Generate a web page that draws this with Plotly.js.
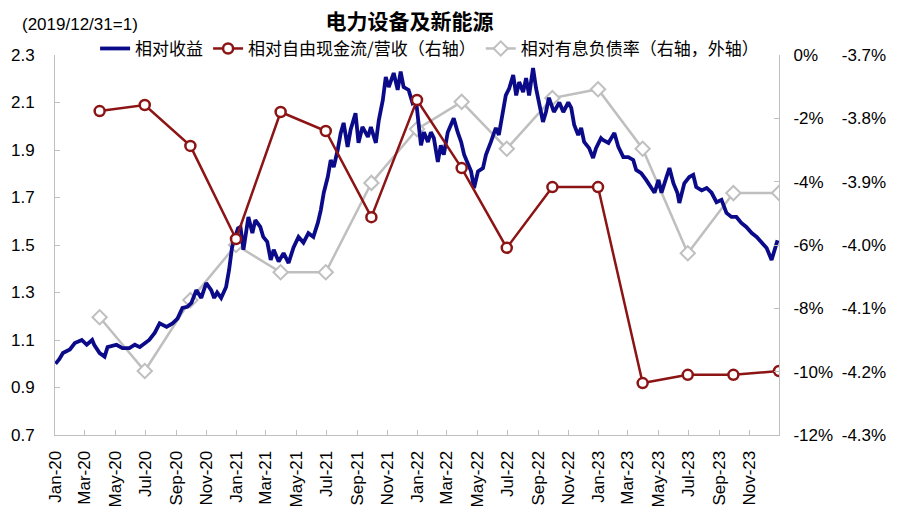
<!DOCTYPE html>
<html><head><meta charset="utf-8">
<script src="https://cdn.plot.ly/plotly-3.0.1.min.js"></script>
<style>html,body{margin:0;padding:0;background:#fff}#chart{width:900px;height:521px}</style>
</head><body><div id="chart"></div>
<script>
// 相对收益 (2019/12/31=1)
const blueDates = [
'2020-01-02','2020-01-10','2020-01-17','2020-01-31','2020-02-10','2020-02-24','2020-03-05','2020-03-16','2020-03-20','2020-03-31',
'2020-04-10','2020-04-16','2020-05-04','2020-05-16','2020-05-30','2020-06-10','2020-06-20','2020-07-03','2020-07-09','2020-07-20',
'2020-07-30','2020-08-13','2020-08-25','2020-09-04','2020-09-14','2020-09-24','2020-10-02','2020-10-12','2020-10-22','2020-11-01',
'2020-11-11','2020-11-17','2020-11-23','2020-12-01','2020-12-11','2020-12-17','2020-12-23','2020-12-27',
'2021-01-04','2021-01-09','2021-01-15','2021-01-25','2021-02-02','2021-02-08','2021-02-18','2021-02-24','2021-03-04','2021-03-11',
'2021-03-17','2021-03-27','2021-04-06','2021-04-16','2021-04-26','2021-05-06','2021-05-16','2021-05-26','2021-06-05','2021-06-14',
'2021-06-20','2021-06-26','2021-07-04','2021-07-10','2021-07-16','2021-07-24','2021-07-30','2021-08-05','2021-08-13','2021-08-19',
'2021-08-29','2021-09-04','2021-09-12','2021-09-23','2021-09-29','2021-10-09','2021-10-15','2021-10-23','2021-10-29','2021-11-04',
'2021-11-14','2021-11-22','2021-11-28','2021-12-04','2021-12-14','2021-12-22','2021-12-29',
'2022-01-08','2022-01-14','2022-01-22','2022-01-28','2022-02-03','2022-02-11','2022-02-17','2022-02-23','2022-03-03','2022-03-09',
'2022-03-15','2022-03-23','2022-03-30','2022-04-05','2022-04-13','2022-04-19','2022-04-25','2022-05-03','2022-05-13','2022-05-19',
'2022-05-29','2022-06-08','2022-06-14','2022-06-22','2022-06-28','2022-07-05','2022-07-13','2022-07-19','2022-07-25','2022-08-02',
'2022-08-08','2022-08-14','2022-08-22','2022-08-28','2022-09-03','2022-09-11','2022-09-17','2022-09-23','2022-10-03','2022-10-14',
'2022-10-22','2022-11-01','2022-11-07','2022-11-13','2022-11-21','2022-11-27','2022-12-03','2022-12-13','2022-12-21','2022-12-27',
'2023-01-06','2023-01-10','2023-01-21','2023-02-02','2023-02-10','2023-02-20','2023-03-02','2023-03-12','2023-03-18','2023-03-28',
'2023-04-07','2023-04-17','2023-04-24','2023-05-02','2023-05-08','2023-05-18','2023-05-24','2023-06-01','2023-06-09','2023-06-13',
'2023-06-23','2023-07-03','2023-07-11','2023-07-17','2023-07-28','2023-08-07','2023-08-17','2023-08-27','2023-09-06','2023-09-16',
'2023-09-26','2023-10-06','2023-10-16','2023-10-26','2023-11-06','2023-11-16','2023-11-26','2023-12-06','2023-12-16','2023-12-22',
'2023-12-28'
];
const blueValues = [
1.00,1.02,1.045,1.06,1.087,1.10,1.08,1.10,1.08,1.045,
1.03,1.07,1.08,1.066,1.066,1.08,1.07,1.09,1.10,1.13,
1.17,1.155,1.17,1.19,1.235,1.24,1.256,1.31,1.277,1.34,
1.31,1.277,1.30,1.277,1.323,1.395,1.49,1.52,
1.57,1.576,1.48,1.618,1.55,1.605,1.576,1.534,1.513,1.437,
1.48,1.43,1.466,1.424,1.49,1.534,1.51,1.55,1.534,1.593,
1.647,1.72,1.786,1.858,1.828,1.90,1.97,2.014,1.913,1.984,
2.055,1.93,1.997,1.955,1.997,1.93,2.026,2.11,2.207,2.165,
2.224,2.153,2.23,2.165,2.153,2.098,2.11,
1.92,1.975,1.934,1.975,1.95,1.85,1.92,1.88,1.975,2.005,
2.034,1.975,1.934,1.88,1.837,1.81,1.74,1.81,1.824,1.88,
1.934,1.993,1.963,2.047,2.13,2.16,2.216,2.13,2.186,2.144,
2.203,2.13,2.245,2.16,2.09,2.018,2.06,2.12,2.06,2.10,
2.06,2.10,2.077,2.005,1.963,1.993,1.934,1.908,1.866,1.908,
1.95,1.942,1.93,1.972,1.913,1.87,1.87,1.858,1.816,1.803,
1.774,1.744,1.72,1.774,1.72,1.786,1.824,1.76,1.72,1.677,
1.76,1.786,1.795,1.744,1.73,1.74,1.72,1.68,1.69,1.635,
1.618,1.618,1.593,1.576,1.55,1.534,1.51,1.487,1.437,1.48,
1.52
];
// quarterly series
const quarterDates = ['2020-03-31','2020-06-30','2020-09-30','2020-12-31','2021-03-31','2021-06-30','2021-09-30','2021-12-31',
                      '2022-03-31','2022-06-30','2022-09-30','2022-12-31','2023-03-31','2023-06-30','2023-09-30','2023-12-31'];
// 相对自由现金流/营收 (%)
const fcfValues = [-1.77,-1.58,-2.87,-5.81,-1.80,-2.40,-5.12,-1.42,-3.57,-6.09,-4.17,-4.17,-10.36,-10.10,-10.10,-9.98];
// 相对有息负债率 (%)
const debtValues = [-4.114,-4.199,-4.087,-4.000,-4.043,-4.043,-3.902,-3.817,-3.774,-3.848,-3.768,-3.754,-3.848,-4.013,-3.918,-3.918];

const leftTicks = [0.7,0.9,1.1,1.3,1.5,1.7,1.9,2.1,2.3];
const innerTicks = [-12,-10,-8,-6,-4,-2,0];
const outerTicks = [-4.3,-4.2,-4.1,-4.0,-3.9,-3.8,-3.7];

const FONT = 'Liberation Sans, Arial, Noto Sans CJK SC, sans-serif';
const CJK = 'Noto Sans CJK SC, Liberation Sans, sans-serif';
const AX = '#BFBFBF';

const data = [
  {x: blueDates, y: blueValues, name: '相对收益', type: 'scatter', mode: 'lines', yaxis: 'y2',
   line: {color: '#0B0B8A', width: 3.8}},
  {x: quarterDates, y: fcfValues, name: '相对自由现金流/营收（右轴）', type: 'scatter', mode: 'lines+markers', yaxis: 'y3',
   line: {color: '#8C1414', width: 2.5},
   marker: {symbol: 'circle', size: 10, color: '#ffffff', line: {color: '#8C1414', width: 2.5}}},
  {x: quarterDates, y: debtValues, name: '相对有息负债率（右轴，外轴）', type: 'scatter', mode: 'lines+markers', yaxis: 'y',
   line: {color: '#BFBFBF', width: 2.5},
   marker: {symbol: 'diamond', size: 11, color: '#ffffff', line: {color: '#BFBFBF', width: 2}}}
];

const layout = {
  width: 900, height: 521,
  margin: {l: 55, r: 10, t: 55, b: 86},
  paper_bgcolor: '#fff', plot_bgcolor: '#fff',
  font: {family: FONT, size: 17, color: '#000'},
  showlegend: true,
  title: {text: '电力设备及新能源', font: {family: CJK, size: 21, weight: 'bold', color: '#000'},
          xref: 'container', yref: 'container', x: 0.455, xanchor: 'center', y: 0.958, yanchor: 'middle'},
  legend: {orientation: 'h', x: 0.048, xanchor: 'left', y: 1.016, yanchor: 'middle',
           font: {family: CJK, size: 17, color: '#000'}, bgcolor: 'rgba(0,0,0,0)', itemwidth: 30},
  xaxis: {type: 'date', domain: [0, 0.8671], anchor: 'y2', range: ['2020-01-01', '2023-12-31'],
          dtick: 'M2', tick0: '2020-01-01', tickformat: '%b-%y', tickangle: -90,
          ticks: 'inside', ticklen: 5, tickcolor: AX, showline: true, linecolor: AX, linewidth: 1,
          showgrid: false, zeroline: false, ticklabelstandoff: 8, tickfont: {size: 17}},
  yaxis: {anchor: 'free', position: 0.941, side: 'right', range: [-4.3, -3.7],
          tickvals: outerTicks, ticktext: outerTicks.map(v => v.toFixed(1) + '%'),
          ticks: '', showline: false, showgrid: false, zeroline: false, tickfont: {size: 17}},
  yaxis2: {overlaying: 'y', side: 'left', anchor: 'x', range: [0.7, 2.3],
           tickvals: leftTicks, ticktext: leftTicks.map(v => v.toFixed(1)),
           ticks: 'inside', ticklen: 5, tickcolor: AX, showline: true, linecolor: AX, linewidth: 1,
           showgrid: false, zeroline: false, ticklabelstandoff: 16, tickfont: {size: 17}},
  yaxis3: {overlaying: 'y', side: 'right', anchor: 'x', range: [-12, 0],
           tickvals: innerTicks, ticktext: innerTicks.map(v => v + '%'),
           ticks: 'inside', ticklen: 5, tickcolor: AX, showline: true, linecolor: AX, linewidth: 1,
           showgrid: false, zeroline: false, ticklabelstandoff: 10, tickfont: {size: 17}},
  annotations: [
    {text: '(2019/12/31=1)', xref: 'paper', yref: 'paper', x: -0.042, xanchor: 'left', y: 1.079, yanchor: 'middle',
     showarrow: false, font: {family: FONT, size: 17, color: '#000'}}
  ]
};

Plotly.newPlot('chart', data, layout, {displayModeBar: false, staticPlot: true});
</script>
</body></html>
